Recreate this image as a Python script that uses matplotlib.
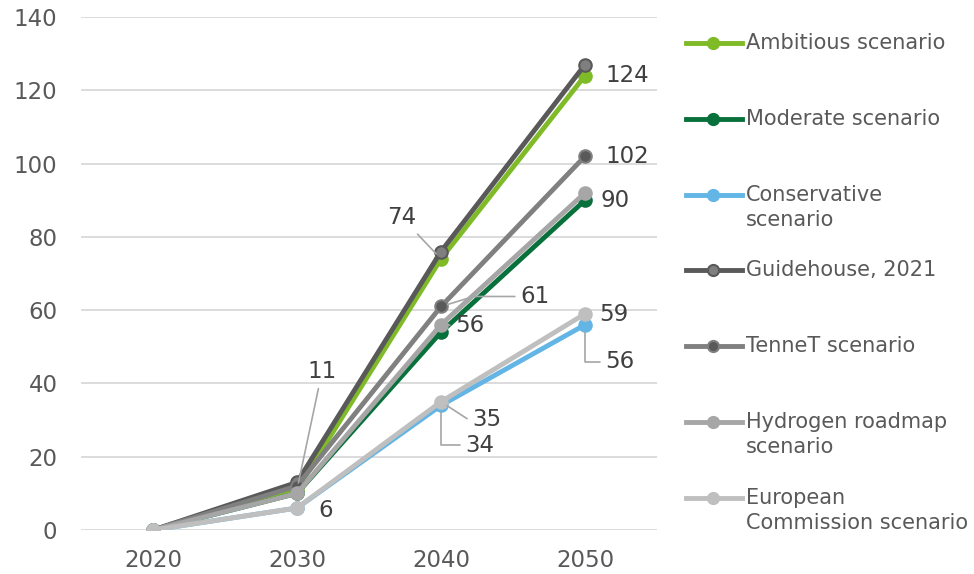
import matplotlib
matplotlib.use("Agg")
import matplotlib.pyplot as plt
from matplotlib.lines import Line2D

years = ["2020", "2030", "2040", "2050"]
series_names = ["Ambitious scenario", "Moderate scenario", "Conservative\nscenario",
                "Guidehouse, 2021", "TenneT scenario", "Hydrogen roadmap\nscenario",
                "European\nCommission scenario"]
ambitious = [0, 11, 74, 124]
moderate = [0, 10, 54, 90]
conservative = [0, 6, 34, 56]
guidehouse = [0, 13, 76, 127]
tennet = [0, 12, 61, 102]
hydrogen = [0, 10, 56, 92]
european = [0, 6, 35, 59]
values = [ambitious, moderate, conservative, guidehouse, tennet, hydrogen, european]

line_colors = ["#7fba27", "#08703a", "#62b5e5", "#595959", "#808080", "#a6a6a6", "#bfbfbf"]
marker_faces = ["#7fba27", "#08703a", "#62b5e5", "#7f7f7f", "#595959", "#a6a6a6", "#bfbfbf"]
marker_edges = ["#7fba27", "#08703a", "#62b5e5", "#595959", "#7f7f7f", "#a6a6a6", "#bfbfbf"]

# data labels: (series index, year index, offset px, leader style)
labels = [
    (0, 1, (25, 118), "straight"),
    (0, 2, (-39, 41), "straight"),
    (4, 2, (94, 10), "angle,angleA=0,angleB=17,rad=0"),
    (5, 2, (29, -1), "straight"),
    (6, 2, (46, -18), "angle,angleA=0,angleB=-33,rad=0"),
    (2, 2, (39, -40), "angle,angleA=0,angleB=90,rad=0"),
    (2, 3, (35, -37), "angle,angleA=0,angleB=90,rad=0"),
    (0, 3, (42, 0), None),
    (4, 3, (42, 0), None),
    (1, 3, (30, 0), None),
    (6, 3, (29, -1), None),
    (2, 1, (29, -2), None),
]

W, H = 974, 574
fig = plt.figure(figsize=(W / 100, H / 100), dpi=100)
ax = fig.add_axes([81 / W, 44 / H, 576 / W, 513 / H])

x = list(range(len(years)))
for i, v in enumerate(values):
    ax.plot(x, v, color=line_colors[i], lw=3.5, marker="o", ms=9,
            mfc=marker_faces[i], mec=marker_edges[i], mew=1.5, zorder=3 + i,
            solid_capstyle="round")

ax.set_xlim(-0.5, 3.5)
ax.set_ylim(0, 140)
ax.set_yticks(range(0, 141, 20))
ax.set_xticks(x)
ax.set_xticklabels(years)
ax.grid(axis="y", color="#d9d9d9", lw=1.3, zorder=0)
ax.set_axisbelow(True)
for s in ax.spines.values():
    s.set_visible(False)
ax.tick_params(axis="both", length=0, labelsize=16.5, colors="#595959")
ax.tick_params(axis="y", pad=17)
ax.tick_params(axis="x", pad=14)

for si, yi, off, style in labels:
    val = values[si][yi]
    kw = {}
    if style is not None:
        cs = "arc3,rad=0" if style == "straight" else style
        kw["arrowprops"] = dict(arrowstyle="-", color="#a6a6a6", lw=1.2,
                                shrinkA=2, shrinkB=5, connectionstyle=cs)
    ax.annotate(str(val), xy=(yi, val), xytext=off, textcoords="offset pixels",
                ha="center", va="center", fontsize=16.5, color="#404040",
                zorder=20, annotation_clip=False, **kw)

# legend
leg_y = [43, 119, 195, 270, 346, 422, 498]
for i, name in enumerate(series_names):
    yf = 1 - leg_y[i] / H
    fig.add_artist(Line2D([686 / W, 742 / W], [yf, yf], color=line_colors[i], lw=3.5,
                          transform=fig.transFigure))
    fig.add_artist(Line2D([713 / W], [yf], marker="o", ms=8, mfc=marker_faces[i],
                          mec=marker_edges[i], mew=1.5, transform=fig.transFigure))
    for k, part in enumerate(name.split("\n")):
        fig.text(746 / W, 1 - (leg_y[i] + 25 * k) / H, part, ha="left", va="center",
                 fontsize=15, color="#595959")

fig.savefig("out.png", dpi=100)
